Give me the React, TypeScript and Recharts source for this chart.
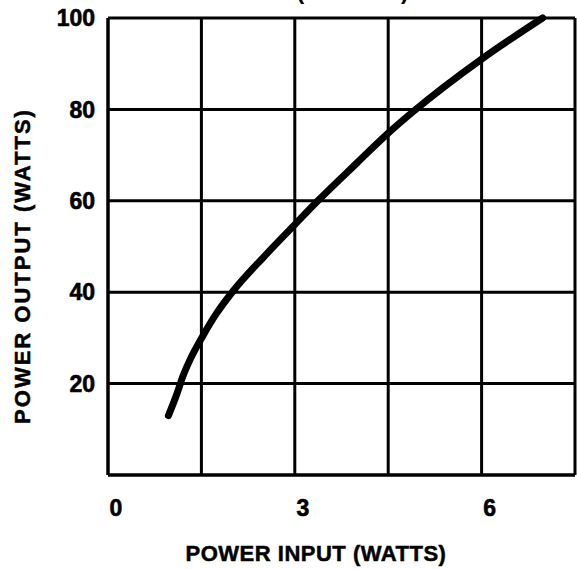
import { CartesianGrid, Label, Line, LineChart, XAxis, YAxis } from "recharts";

// power in (W) vs power out (W)
const powerInput = [0.97, 1.1, 1.2, 1.32, 1.53, 1.74, 2.0, 2.5, 3.0, 3.37, 4.0, 4.5, 4.9, 6.0, 6.98];
const powerOutput = [13, 17.5, 21.5, 25.3, 30.6, 35.3, 40.1, 47.7, 54.8, 60, 68.3, 74.8, 79.5, 91, 100];

const xTicks = [0, 1.5, 3, 4.5, 6, 7.5];
const xLabels = [0, 3, 6];
const yTicks = [0, 20, 40, 60, 80, 100];
const yLabels = [20, 40, 60, 80, 100];

const FONT = "'Liberation Sans', Arial, Helvetica, sans-serif";

const data = powerInput.map((x, i) => ({ input: x, output: powerOutput[i] }));

const tickStyle = {
  fill: "#000",
  stroke: "#000",
  strokeWidth: 0.6,
  fontSize: 23,
  fontWeight: 700,
  fontFamily: FONT,
};

export default function App() {
  return (
    <div style={{ position: "absolute", left: 0, top: 0, background: "#fff" }}>
      <LineChart
        width={577}
        height={569}
        data={data}
        margin={{ top: 18, right: 2, bottom: 34, left: 38 }}
      >
        <CartesianGrid stroke="#000" strokeWidth={3} />
        <XAxis
          type="number"
          dataKey="input"
          domain={[0, 7.5]}
          ticks={xTicks}
          height={60}
          interval={0}
          tickLine={false}
          tickMargin={19}
          axisLine={{ stroke: "#000", strokeWidth: 3 }}
          tick={{ ...tickStyle, dx: 8 }}
          tickFormatter={(v: number) => (xLabels.includes(v) ? String(v) : "")}
        >
          <Label
            content={() => (
              <text
                x={316}
                y={561}
                textAnchor="middle"
                fontSize={22}
                fontWeight={700}
                fontFamily={FONT}
                letterSpacing={0.5}
                fill="#000"
                stroke="#000"
                strokeWidth={0.5}
              >
                POWER INPUT (WATTS)
              </text>
            )}
          />
        </XAxis>
        <YAxis
          type="number"
          domain={[0, 100]}
          ticks={yTicks}
          width={70}
          interval={0}
          tickLine={false}
          tickMargin={7}
          axisLine={{ stroke: "#000", strokeWidth: 3 }}
          tick={tickStyle}
          tickFormatter={(v: number) => (yLabels.includes(v) ? String(v) : "")}
        >
          <Label
            content={() => (
              <g>
                <text
                  x={30}
                  y={266}
                  transform="rotate(-90 30 266)"
                  textAnchor="middle"
                  fontSize={22}
                  fontWeight={700}
                  fontFamily={FONT}
                  letterSpacing={2}
                  fill="#000"
                  stroke="#000"
                  strokeWidth={0.5}
                >
                  POWER OUTPUT (WATTS)
                </text>
                <text
                  x={354}
                  y={-1}
                  textAnchor="middle"
                  fontSize={23}
                  fontWeight={700}
                  fontFamily={FONT}
                  letterSpacing={3}
                  fill="#000"
                >
                  (WATTS)
                </text>
              </g>
            )}
          />
        </YAxis>
        <Line
          type="monotone"
          dataKey="output"
          stroke="#000"
          strokeWidth={7}
          strokeLinecap="round"
          dot={false}
          activeDot={false}
          isAnimationActive={false}
        />
      </LineChart>
    </div>
  );
}
